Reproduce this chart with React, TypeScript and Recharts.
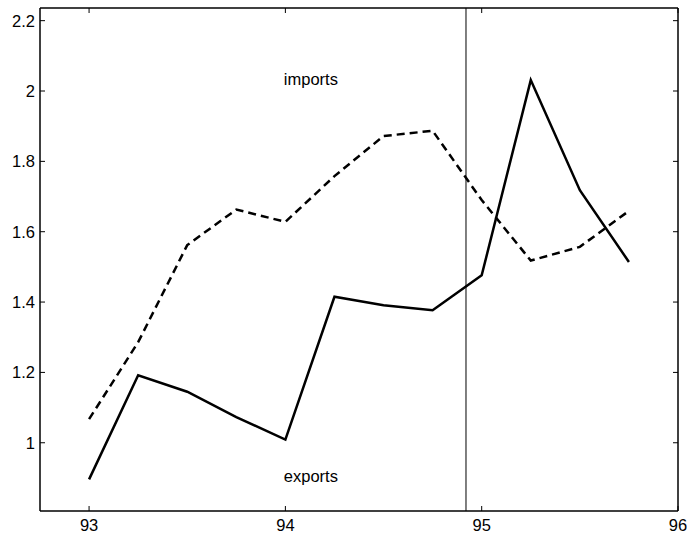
import React from 'react';
import { LineChart, Line, XAxis, YAxis, ReferenceLine, ReferenceDot } from 'recharts';

const quarters = [93, 93.25, 93.5, 93.75, 94, 94.25, 94.5, 94.75, 95, 95.25, 95.5, 95.75];
const exportsSeries = [0.896, 1.192, 1.145, 1.073, 1.009, 1.415, 1.391, 1.377, 1.476, 2.031, 1.718, 1.514];
const importsSeries = [1.067, 1.286, 1.562, 1.663, 1.628, 1.758, 1.872, 1.887, 1.69, 1.518, 1.557, 1.659];
const xTicks = [93, 94, 95, 96];
const yTicks = [1, 1.2, 1.4, 1.6, 1.8, 2, 2.2];
const xDomain = [92.75, 96];
const yDomain = [0.806, 2.236];
const markerX = 94.92;
const labels = [
  { text: 'imports', x: 94.13, y: 2.033 },
  { text: 'exports', x: 94.13, y: 0.905 },
];

const data = quarters.map((q, i) => ({ q, exp: exportsSeries[i], imp: importsSeries[i] }));

const FONT = 'Liberation Sans, Arial, Helvetica, sans-serif';
const FS = 16.5;
const blank = () => '';
const frameLine = { stroke: '#000', strokeWidth: 1.5 };
const tickMark = { stroke: '#000', strokeWidth: 1 };

export default function App() {
  return (
    <div style={{ position: 'absolute', left: 0, top: 0, background: '#fff' }}>
      <LineChart
        width={687}
        height={536}
        data={data}
        margin={{ top: 8, right: 9, bottom: 0, left: 0 }}
        style={{ fontFamily: FONT }}
      >
        {/* label-only axes */}
        <XAxis
          xAxisId="b"
          dataKey="q"
          type="number"
          domain={xDomain}
          allowDataOverflow
          ticks={xTicks}
          orientation="bottom"
          height={25}
          tickSize={0}
          tickMargin={8}
          axisLine={false}
          tickLine={false}
          tick={{ fill: '#000', fontSize: FS }}
        />
        <YAxis
          yAxisId="l"
          type="number"
          domain={yDomain}
          allowDataOverflow
          ticks={yTicks}
          width={40}
          tickSize={0}
          tickMargin={5}
          axisLine={false}
          tickLine={false}
          tick={{ fill: '#000', fontSize: FS }}
        />
        {/* frame with inward ticks (mirrored axes) */}
        <XAxis
          xAxisId="bm"
          dataKey="q"
          type="number"
          domain={xDomain}
          allowDataOverflow
          ticks={xTicks}
          orientation="bottom"
          mirror
          height={5}
          tickSize={5}
          tickFormatter={blank}
          axisLine={frameLine}
          tickLine={tickMark}
        />
        <XAxis
          xAxisId="tm"
          dataKey="q"
          type="number"
          domain={xDomain}
          allowDataOverflow
          ticks={xTicks}
          orientation="top"
          mirror
          height={5}
          tickSize={5}
          tickFormatter={blank}
          axisLine={frameLine}
          tickLine={tickMark}
        />
        <YAxis
          yAxisId="lm"
          type="number"
          domain={yDomain}
          allowDataOverflow
          ticks={yTicks}
          orientation="left"
          mirror
          width={5}
          tickSize={5}
          tickFormatter={blank}
          axisLine={frameLine}
          tickLine={tickMark}
        />
        <YAxis
          yAxisId="rm"
          type="number"
          domain={yDomain}
          allowDataOverflow
          ticks={yTicks}
          orientation="right"
          mirror
          width={5}
          tickSize={5}
          tickFormatter={blank}
          axisLine={frameLine}
          tickLine={tickMark}
        />
        <ReferenceLine xAxisId="b" yAxisId="l" x={markerX} stroke="#000" strokeWidth={1} />
        <Line
          xAxisId="b"
          yAxisId="l"
          dataKey="imp"
          stroke="#000"
          strokeWidth={2.5}
          strokeDasharray="8 5"
          dot={false}
          isAnimationActive={false}
        />
        <Line
          xAxisId="b"
          yAxisId="l"
          dataKey="exp"
          stroke="#000"
          strokeWidth={2.5}
          dot={false}
          isAnimationActive={false}
        />
        {labels.map((l) => (
          <ReferenceDot
            key={l.text}
            xAxisId="b"
            yAxisId="l"
            x={l.x}
            y={l.y}
            r={0}
            fill="none"
            stroke="none"
            label={{ value: l.text, position: 'center', fill: '#000', fontSize: FS }}
          />
        ))}
      </LineChart>
    </div>
  );
}
